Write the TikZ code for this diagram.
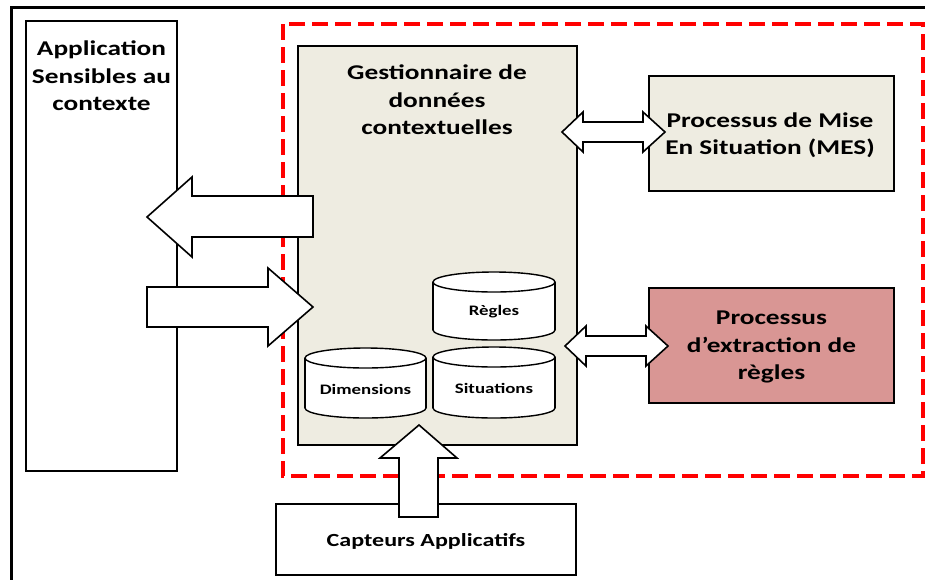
\documentclass[tikz,border=0pt]{standalone}
\usepackage{fontspec}
\setmainfont{Carlito}[FakeStretch=1.3]
\definecolor{beige}{HTML}{EEECE1}
\definecolor{rose}{HTML}{D99694}
\definecolor{dred}{HTML}{FF0000}
\tikzset{
  box/.style={draw=black, line width=1.6pt, inner sep=0pt},
  bigtxt/.style={align=center, font=\fontsize{21}{27.5}\selectfont\bfseries, inner sep=0pt},
  smalltxt/.style={align=center, font=\fontsize{14.5}{18}\selectfont\bfseries, inner sep=0pt},
  blockarrow/.style={draw=black, fill=white, line width=1.6pt, line join=miter},
  cyl/.style={draw=black, line width=1.4pt, fill=white}
}
\newcommand{\mycyl}[5]{% L R T B r
  \pgfmathsetmacro{\cx}{(#1+#2)/2}
  \pgfmathsetmacro{\rx}{(#2-#1)/2}
  \fill[white] (#1,#3+#5) rectangle (#2,#4-#5);
  \draw[cyl] (\cx,#4-#5) ellipse [x radius=\rx, y radius=#5];
  \fill[white] (#1,#3+#5) rectangle (#2,#4-#5);
  \draw[line width=1.4pt] (#1,#3+#5) -- (#1,#4-#5) (#2,#3+#5) -- (#2,#4-#5);
  \draw[cyl] (\cx,#3+#5) ellipse [x radius=\rx, y radius=#5];
}
\begin{document}
\begin{tikzpicture}[x=1pt,y=-1pt]
\useasboundingbox (0,0) rectangle (925,579);
\fill[white] (0,0) rectangle (925,579);
% outer frame
\draw[line width=3pt] (11,7) rectangle (945,600);
% application
\node[box, fill=white, minimum width=151pt, minimum height=450pt] (app) at (101.5,246) {};
\node[bigtxt] (apptxt) at (101.5,76) {Application\\Sensibles au\\contexte};
% red dashed region
\draw[dred, line width=4pt, dash pattern=on 16pt off 7pt] (283,24) rectangle (923,476);
% gestionnaire
\node[box, fill=beige, minimum width=279pt, minimum height=399pt] (gest) at (437.5,245.5) {};
\node[bigtxt] (gesttxt) at (437,100) {Gestionnaire de\\données\\contextuelles};
% MES
\node[box, fill=beige, minimum width=245pt, minimum height=115pt] (mes) at (771.5,133.5) {};
\node[bigtxt] (mestxt) at (770,135) {Processus de Mise\\En Situation (MES)};
% extraction
\node[box, fill=rose, minimum width=245pt, minimum height=115pt] (ext) at (771.5,345.5) {};
\node[bigtxt] (exttxt) at (771.5,347) {Processus\\d’extraction de\\règles};
% capteurs
\node[box, fill=white, minimum width=300pt, minimum height=71pt] (capt) at (426,539.5) {};
\node[bigtxt, font=\fontsize{18.5}{22}\selectfont\bfseries] (capttxt) at (426,541) {Capteurs Applicatifs};
% cylinders
\mycyl{433}{555}{272}{340}{10}
\node[smalltxt] (regles) at (494,312) {Règles};
\mycyl{305}{426}{348}{418}{10}
\node[smalltxt] (dims) at (365.5,389) {Dimensions};
\mycyl{433}{555}{347}{418}{10}
\node[smalltxt] (sits) at (494,388) {Situations};
% block arrows
\draw[blockarrow] (313,196) -- (192,196) -- (192,177) -- (147,217) -- (192,257) -- (192,237) -- (313,237) -- cycle;
\draw[blockarrow] (147,287) -- (268,287) -- (268,268) -- (313,307) -- (268,346) -- (268,327) -- (147,327) -- cycle;
\draw[blockarrow] (399,517) -- (399,458) -- (380,458) -- (419,425) -- (457,458) -- (438,458) -- (438,517) -- cycle;
\draw[blockarrow] (562,132) -- (583,112) -- (583,122) -- (643,122) -- (643,112) -- (665,132) -- (643,152) -- (643,142) -- (583,142) -- (583,152) -- cycle;
\draw[blockarrow] (565,346) -- (586,326) -- (586,336) -- (646,336) -- (646,326) -- (668,346) -- (646,366) -- (646,356) -- (586,356) -- (586,366) -- cycle;
\end{tikzpicture}
\end{document}
